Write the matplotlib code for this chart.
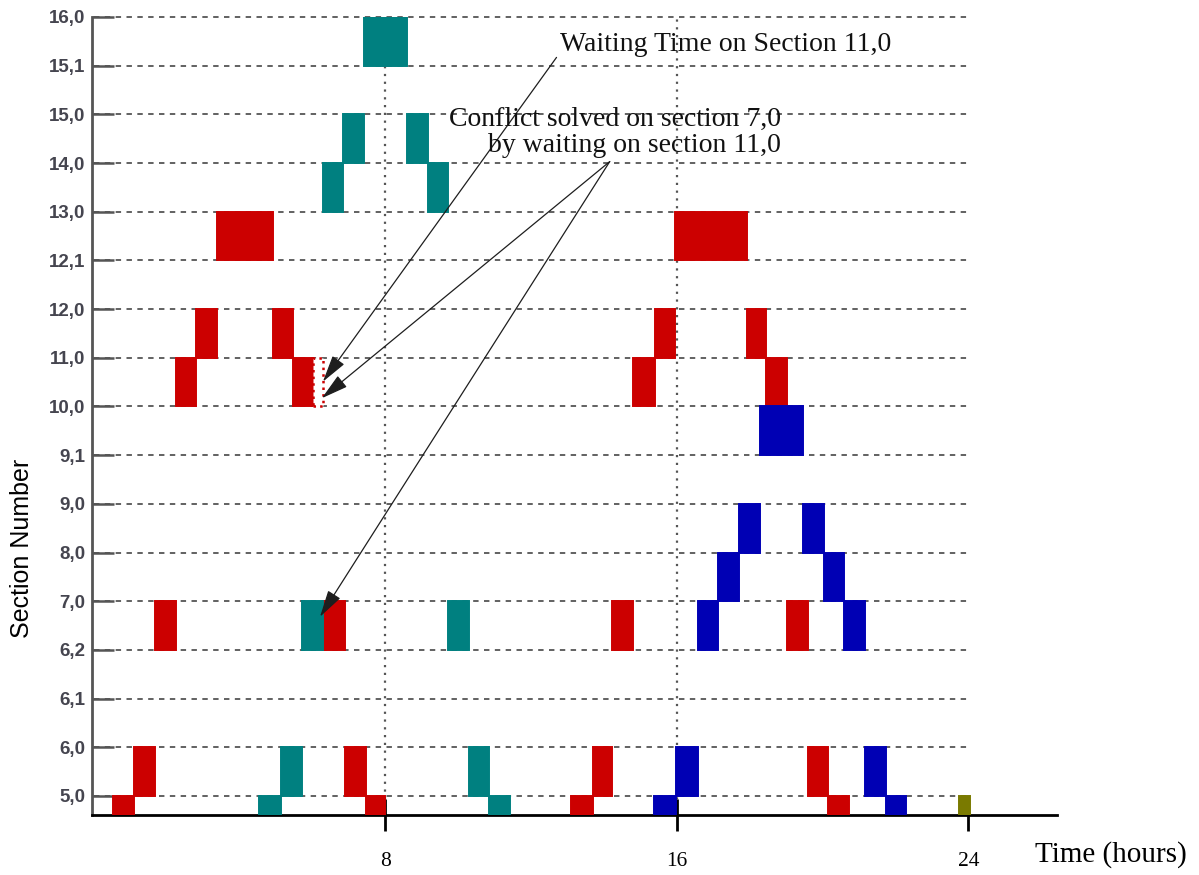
import matplotlib.pyplot as plt
from matplotlib.patches import Rectangle

# Section rows, bottom to top
sections = ['5,0', '6,0', '6,1', '6,2', '7,0', '8,0', '9,0', '9,1',
            '10,0', '11,0', '12,0', '12,1', '13,0', '14,0', '15,0', '15,1', '16,0']

# Occupation blocks per train: (section, start hour, end hour)
red_first = [('5,0', 0.52, 1.11), ('6,0', 1.11, 1.68), ('7,0', 1.68, 2.25),
             ('11,0', 2.25, 2.81), ('12,0', 2.81, 3.39), ('13,0', 3.39, 4.91),
             ('12,0', 4.91, 5.48), ('11,0', 5.48, 6.02), ('7,0', 6.29, 6.89),
             ('6,0', 6.89, 7.47), ('5,0', 7.47, 7.99)]
teal_train = [('5,0', 4.54, 5.14), ('6,0', 5.14, 5.71), ('7,0', 5.71, 6.28),
              ('14,0', 6.28, 6.85), ('15,0', 6.85, 7.42), ('16,0', 7.42, 8.60),
              ('15,0', 8.60, 9.18), ('14,0', 9.18, 9.72), ('7,0', 9.72, 10.30),
              ('6,0', 10.30, 10.85), ('5,0', 10.85, 11.42)]
red_second = [('5,0', 13.09, 13.71), ('6,0', 13.71, 14.23), ('7,0', 14.23, 14.81),
              ('11,0', 14.81, 15.40), ('12,0', 15.40, 15.95), ('13,0', 15.95, 17.92),
              ('12,0', 17.92, 18.44), ('11,0', 18.44, 19.02), ('7,0', 19.02, 19.59),
              ('6,0', 19.59, 20.15), ('5,0', 20.15, 20.72)]
blue_train = [('5,0', 15.38, 15.99), ('6,0', 15.99, 16.57), ('7,0', 16.57, 17.14),
              ('8,0', 17.14, 17.70), ('9,0', 17.70, 18.28), ('10,0', 18.28, 19.45),
              ('9,0', 19.45, 20.04), ('8,0', 20.04, 20.60), ('7,0', 20.60, 21.16),
              ('6,0', 21.16, 21.74), ('5,0', 21.74, 22.30)]
olive_train = [('5,0', 23.75, 24.05)]
waiting_slot = ('11,0', 6.02, 6.29)

trains = [(red_first, '#cc0000'), (teal_train, '#008080'),
          (red_second, '#cc0000'), (blue_train, '#0000b4'),
          (olive_train, '#7a7a00')]

y_bottom = -0.39


def band(sec):
    # a section is drawn between the row below it and its own row
    i = sections.index(sec)
    lo = i - 1 if i > 0 else y_bottom
    return lo, i - lo


fig = plt.figure(figsize=(11.99, 8.75), dpi=100)
ax = fig.add_axes([0.0767, 0.0686, 0.8048, 0.912])

ax.hlines(range(len(sections)), 0, 24, colors='#555555', linestyles=(0, (3, 3)),
          lw=1.3, zorder=1, clip_on=False)
ax.vlines([8, 16], y_bottom, len(sections) - 1, colors='#555555',
          linestyles=(0, (1, 2.5)), lw=1.6, zorder=1)

for blocks, color in trains:
    starts = [b[1] for b in blocks]
    widths = [b[2] - b[1] for b in blocks]
    lows = [band(b[0])[0] for b in blocks]
    heights = [band(b[0])[1] for b in blocks]
    ax.bar(starts, heights, width=widths, bottom=lows, align='edge',
           color=color, edgecolor=color, lw=1.4, zorder=3)

lo, h = band(waiting_slot[0])
ax.add_patch(Rectangle((waiting_slot[1], lo), waiting_slot[2] - waiting_slot[1], h,
                       facecolor='white', edgecolor='#cc0000', linestyle=':',
                       lw=1.8, zorder=3))

arrow_kw = dict(arrowstyle='-|>,head_length=1.2,head_width=0.32', color='#1e1e1e',
                lw=0.9, mutation_scale=14, shrinkA=0, shrinkB=0)
ax.annotate('', xy=(6.29, 8.51), xytext=(12.70, 15.17), arrowprops=arrow_kw, zorder=4)
ax.annotate('', xy=(6.26, 8.17), xytext=(14.16, 13.03), arrowprops=arrow_kw, zorder=4)
ax.annotate('', xy=(6.21, 3.68), xytext=(14.16, 13.03), arrowprops=arrow_kw, zorder=4)

serif = 'Liberation Serif'
ax.text(12.80, 15.44, 'Waiting Time on Section 11,0', family=serif, size=20,
        ha='left', va='center', color='#111111', zorder=5)
ax.text(18.86, 13.90, 'Conflict solved on section 7,0', family=serif, size=20,
        ha='right', va='center', color='#111111', zorder=5)
ax.text(18.86, 13.35, 'by waiting on section 11,0', family=serif, size=20,
        ha='right', va='center', color='#111111', zorder=5)

ax.set_xlim(-0.047, 26.43)
ax.set_ylim(y_bottom, len(sections) - 1)

ax.set_yticks(range(len(sections)), sections)
ax.tick_params(axis='y', direction='in', length=16, width=1.8, color='#555555',
               pad=5, labelsize=13.5, labelcolor='#45454f')
for lbl in ax.get_yticklabels():
    lbl.set_family('Liberation Sans')
    lbl.set_fontweight('bold')

ax.set_xticks([8, 16, 24], ['8', '16', '24'])
ax.tick_params(axis='x', direction='inout', length=23, width=2, color='black',
               pad=15, labelsize=15.5)
for lbl in ax.get_xticklabels():
    lbl.set_family(serif)

for side in ['top', 'right']:
    ax.spines[side].set_visible(False)
ax.spines['left'].set_color('#555555')
ax.spines['left'].set_linewidth(2)
ax.spines['bottom'].set_color('black')
ax.spines['bottom'].set_linewidth(2)

fig.text(1035 / 1199, 1 - 855 / 875, 'Time (hours)', family=serif, size=21,
         ha='left', va='center')
fig.text(22 / 1199, 1 - 548 / 875, 'Section Number', family='Liberation Sans',
         size=18, rotation=90, ha='center', va='center')

fig.savefig('out.png', dpi=100)
